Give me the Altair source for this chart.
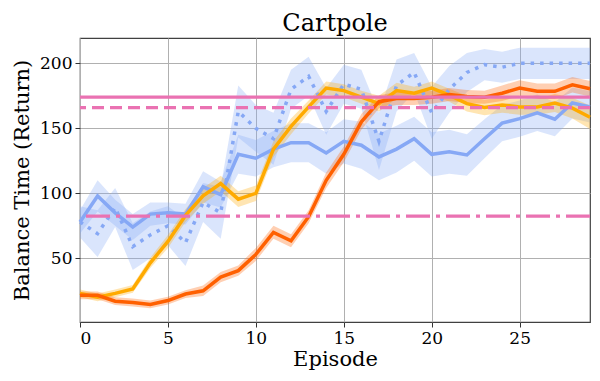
import altair as alt
import pandas as pd

episodes = list(range(30))

blue_solid = [78, 98, 85, 74, 84, 85, 84, 105, 99, 130, 127, 134, 139, 139, 131,
              140, 137, 128, 134, 142, 130, 132, 129.5, 142, 154, 157.5, 162, 157, 169.5, 166.5]
blue_solid_hw = [9, 12, 10, 10, 9, 8, 8, 12, 10, 15, 14, 14, 15, 15, 16,
                 17, 18, 18, 18, 17, 17, 17, 16, 15, 14, 14, 14, 13, 12, 12]

blue_dotted = [78, 69, 89, 59, 68, 75, 62, 93, 85, 163, 150, 142, 180, 190, 163,
               184, 180, 140, 183, 193, 162, 180, 193, 199, 197, 200, 200, 200, 200, 200]
blue_dotted_hw = [12, 18, 15, 18, 18, 15, 18, 15, 20, 20, 18, 20, 15, 15, 18,
                  15, 15, 22, 20, 15, 20, 18, 15, 12, 12, 12, 12, 12, 12, 12]

orange = [21.5, 21.5, 17, 16, 14.5, 17.5, 22.5, 25, 35.5, 40.5, 53, 70, 63.5, 82, 110,
          130, 155, 170.5, 173, 173, 174, 176, 174.5, 174, 177, 181, 178.5, 178.5, 183.5, 180.5]
orange_hw = [3, 3, 3, 3, 3, 3, 3, 4, 4, 4, 5, 5, 5, 5, 6,
             6, 6, 5, 5, 5, 5, 5, 5, 5, 6, 6, 6, 6, 6, 6]

yellow = [23, 20, 23, 26.5, 46.5, 63, 83, 98, 107.5, 95.5, 100, 134, 151.5, 166.5, 181,
          179, 174, 169, 179, 177, 181, 175.5, 169, 166, 168, 166.5, 166.5, 169.5, 165.5, 158.5]
yellow_hw = [3, 3, 3, 3, 4, 5, 5, 6, 6, 6, 6, 6, 6, 5, 5,
             5, 5, 6, 6, 5, 5, 5, 6, 6, 6, 6, 6, 7, 8, 9]

ref_solid = 174
ref_dashed = 166
ref_dashdot = 82.5

x_ticks = [0, 5, 10, 15, 20, 25]
y_ticks = [50, 100, 150, 200]

BLUE = "#86a8f5"
ORANGE = "#ff6000"
YELLOW = "#ffaa00"
PINK = "#ea72b2"
FONT = "DejaVu Serif"


def frame(vals, hw):
    return pd.DataFrame({
        "episode": episodes,
        "value": vals,
        "lo": [v - h for v, h in zip(vals, hw)],
        "hi": [v + h for v, h in zip(vals, hw)],
    })


xs = alt.Scale(domain=[0, 29], nice=False, zero=False)
ys = alt.Scale(domain=[1, 219.5], nice=False, zero=False)

X = alt.X("episode:Q", scale=xs, title="Episode",
          axis=alt.Axis(values=x_ticks, format="d"))
Y = alt.Y("value:Q", scale=ys, title="Balance Time (Return)",
          axis=alt.Axis(values=y_ticks, format="d"))


def band(df, color, op=0.3):
    return alt.Chart(df).mark_area(color=color, opacity=op).encode(
        x=alt.X("episode:Q", scale=xs), y=alt.Y("lo:Q", scale=ys), y2="hi:Q")


def line(df, color, dash=None):
    kw = dict(color=color, strokeWidth=3.5)
    if dash is not None:
        kw["strokeDash"] = dash
        kw["strokeCap"] = "butt"
    return alt.Chart(df).mark_line(**kw).encode(x=X, y=Y)


def hline(v, dash=None):
    kw = dict(color=PINK, strokeWidth=3.2)
    if dash is not None:
        kw["strokeDash"] = dash
    return alt.Chart(pd.DataFrame({"v": [v]})).mark_rule(**kw).encode(
        y=alt.Y("v:Q", scale=ys))


d_bs = frame(blue_solid, blue_solid_hw)
d_bd = frame(blue_dotted, blue_dotted_hw)
d_or = frame(orange, orange_hw)
d_ye = frame(yellow, yellow_hw)

chart = alt.layer(
    band(d_bs, BLUE),
    band(d_bd, BLUE),
    band(d_ye, YELLOW),
    band(d_or, ORANGE),
    line(d_bs, BLUE),
    line(d_bd, BLUE, [3.5, 6]),
    line(d_ye, YELLOW),
    line(d_or, ORANGE),
    hline(ref_solid),
    hline(ref_dashed, [12, 6]),
    hline(ref_dashdot, [24, 6, 4, 6]),
).properties(
    width=510,
    height=284,
    title=alt.TitleParams("Cartpole", font=FONT, fontSize=24, fontWeight="normal",
                          anchor="middle", offset=2, color="#000000"),
    autosize=alt.AutoSizeParams(type="none"),
    padding={"left": 72, "top": 30, "right": 2, "bottom": 51},
).configure_view(
    stroke="#404040", strokeWidth=1.2
).configure_axis(
    labelFont=FONT, titleFont=FONT, labelFontSize=17, titleFontSize=21,
    titleFontWeight="normal", labelColor="#000000", titleColor="#000000",
    tickColor="#333333", tickSize=5, tickWidth=1, domain=False,
    grid=True, gridColor="#b0b0b0", gridWidth=1, labelPadding=3,
).configure_axisY(
    titlePadding=7
).configure_axisX(
    titlePadding=2
)

chart.save("out.html", embed_options={"renderer": "svg", "actions": False})
